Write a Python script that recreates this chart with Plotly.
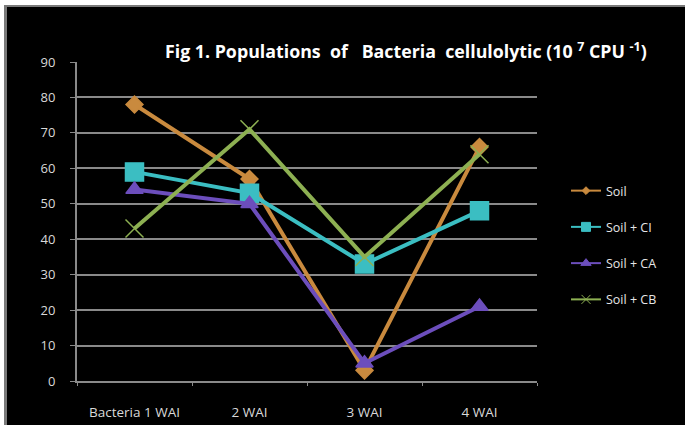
import plotly.graph_objects as go

# Sampling times (weeks after inoculation)
categories = ["Bacteria 1 WAI", "2 WAI", "3 WAI", "4 WAI"]

# Cellulolytic bacteria populations (10^7 CPU^-1)
soil = [78, 57, 3, 66]
soil_ci = [59, 53, 33, 48]
soil_ca = [54, 50, 5, 21]
soil_cb = [43, 71, 35, 64]

series_names = ["Soil", "Soil + CI", "Soil + CA", "Soil + CB"]
series_values = [soil, soil_ci, soil_ca, soil_cb]
series_colors = ["#C98A3E", "#3BBEC2", "#6C4EBC", "#8DB052"]
series_symbols = ["diamond", "square", "triangle-up", "x-thin-open"]
series_sizes = [13, 18, 15, 18]
legend_sizes = [6, 9, 9, 9]

W, H = 685, 425
L, R, T, B = 77, 148, 62, 44
PW, PH = W - L - R, H - T - B


def px(x):
    return (x - L) / PW


def py(y):
    return (H - B - y) / PH


FONT = "Open Sans"

fig = go.Figure()
for i, (name, vals) in enumerate(zip(series_names, series_values)):
    fig.add_trace(go.Scatter(
        x=categories, y=vals, name=name, mode="lines+markers",
        showlegend=False,
        line=dict(color=series_colors[i], width=4),
        marker=dict(symbol=series_symbols[i], size=series_sizes[i],
                    color=series_colors[i],
                    line=dict(color=series_colors[i], width=1.5)),
    ))

# legend entries with compact markers
for i, name in enumerate(series_names):
    fig.add_trace(go.Scatter(
        x=[None], y=[None], name=name, mode="lines+markers",
        legendgroup=f"g{i}", showlegend=True,
        line=dict(color=series_colors[i], width=2),
        marker=dict(symbol=series_symbols[i], size=legend_sizes[i],
                    color=series_colors[i],
                    line=dict(color=series_colors[i], width=1)),
    ))

fig.update_layout(
    width=W, height=H,
    margin=dict(l=L, r=R, t=T, b=B),
    paper_bgcolor="#000000", plot_bgcolor="#000000",
    font=dict(family=FONT, color="#d9d9d9", size=12),
    showlegend=True,
    legend=dict(
        x=px(566), y=py(176), xanchor="left", yanchor="top",
        bgcolor="rgba(0,0,0,0)", traceorder="grouped",
        tracegroupgap=17, font=dict(size=12.5, color="#e6e6e6", family=FONT),
        itemclick=False,
    ),
    xaxis=dict(
        type="category", showgrid=False, zeroline=False, automargin=False,
        showline=True, linecolor="#8a8a8a", linewidth=2,
        ticks="outside", tickson="boundaries", ticklen=3,
        tickcolor="#8a8a8a", tickwidth=1,
        ticklabelstandoff=18,
        tickfont=dict(size=13.5, color="#d9d9d9", family=FONT),
        range=[-0.5, 3.5],
    ),
    yaxis=dict(
        range=[0, 90], dtick=10, showgrid=True, automargin=False,
        gridcolor="#8a8a8a", gridwidth=2, zeroline=False,
        showline=True, linecolor="#8a8a8a", linewidth=2,
        ticks="outside", ticklen=5, tickcolor="#8a8a8a", tickwidth=1,
        ticklabelstandoff=12,
        tickfont=dict(size=13, color="#d9d9d9", family=FONT),
    ),
    shapes=[
        # white outer edge on the top and left
        dict(type="rect", xref="paper", yref="paper", x0=px(0), x1=px(W),
             y0=py(0), y1=py(5), fillcolor="#ffffff", line=dict(width=0)),
        dict(type="rect", xref="paper", yref="paper", x0=px(0), x1=px(4),
             y0=py(0), y1=py(H), fillcolor="#ffffff", line=dict(width=0)),
        # grey bevel along the top and left
        dict(type="rect", xref="paper", yref="paper", x0=px(4), x1=px(W),
             y0=py(5), y1=py(7), fillcolor="#7a7a7a", line=dict(width=0)),
        dict(type="rect", xref="paper", yref="paper", x0=px(4), x1=px(7),
             y0=py(5), y1=py(H), fillcolor="#7a7a7a", line=dict(width=0)),
    ],
    annotations=[
        dict(text="<b>Fig 1. Populations  of   Bacteria  cellulolytic (10 <sup>7</sup> CPU <sup>-1</sup>)</b>",
             xref="paper", yref="paper", x=px(163), y=py(50),
             xanchor="left", yanchor="middle", showarrow=False,
             font=dict(size=17.8, color="#ffffff", family=FONT)),
    ],
)

fig.write_html("out.html")
